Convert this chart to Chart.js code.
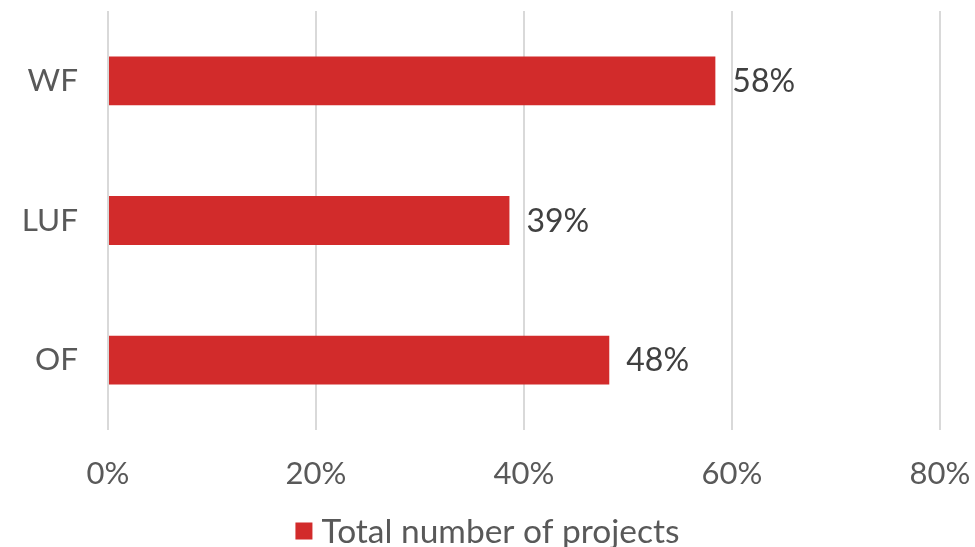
<!DOCTYPE html>
<html>
<head>
<meta charset="utf-8">
<script src="https://cdn.jsdelivr.net/npm/chart.js@4"></script>
<style>
  html, body { margin: 0; padding: 0; background: #fff; }
  #wrap { width: 975px; height: 547px; }
</style>
</head>
<body>
<div id="wrap"><canvas id="chart"></canvas></div>
<script>
// Chart data
const categories = ['WF', 'LUF', 'OF'];
const projectShares = [58.4, 38.6, 48.2];
const tickValues = [0, 20, 40, 60, 80];
const seriesName = 'Total number of projects';

const FONT = 'Lato, "Open Sans", sans-serif';
const BAR_RED = '#D22B2B';

// Draws the percentage next to each bar end
const barLabels = {
    id: 'barLabels',
    afterDatasetsDraw(chart) {
        const ctx = chart.ctx;
        const meta = chart.getDatasetMeta(0);
        ctx.save();
        ctx.font = '32px ' + FONT;
        ctx.fillStyle = '#404040';
        ctx.textAlign = 'left';
        ctx.textBaseline = 'middle';
        meta.data.forEach((bar, i) => {
            ctx.fillText(Math.round(projectShares[i]) + '%', bar.x + 17, bar.y + 1);
        });
        ctx.restore();
    }
};

// Simple legend under the axis, centred on the canvas
const bottomLegend = {
    id: 'bottomLegend',
    afterDraw(chart) {
        const ctx = chart.ctx;
        ctx.save();
        ctx.font = '33.5px ' + FONT;
        const textW = ctx.measureText(seriesName).width;
        const box = 17, gap = 9;
        const total = box + gap + textW;
        const x0 = (chart.width - total) / 2;
        const y = 531;
        ctx.fillStyle = BAR_RED;
        ctx.fillRect(x0, y - box / 2, box, box);
        ctx.fillStyle = '#595959';
        ctx.textBaseline = 'middle';
        ctx.fillText(seriesName, x0 + box + gap, y + 1);
        ctx.restore();
    }
};

new Chart(document.getElementById('chart'), {
    type: 'bar',
    data: {
        labels: categories,
        datasets: [{
            label: seriesName,
            data: projectShares,
            backgroundColor: BAR_RED,
            categoryPercentage: 0.35,
            barPercentage: 1.0
        }]
    },
    options: {
        indexAxis: 'y',
        responsive: true,
        maintainAspectRatio: false,
        animation: false,
        layout: { padding: { top: 11, right: 35, left: 0, bottom: 0 } },
        scales: {
            x: {
                min: 0,
                max: 80,
                afterBuildTicks(scale) {
                    scale.ticks = tickValues.map(v => ({ value: v }));
                },
                afterFit(scale) {
                    scale.height = 117;
                    scale.paddingLeft = 0;
                    scale.paddingRight = 0;
                },
                ticks: {
                    padding: 25,
                    color: '#595959',
                    font: { family: FONT, size: 31 },
                    callback: v => v + '%'
                },
                grid: { color: '#D9D9D9', lineWidth: 2, drawTicks: false },
                border: { display: false }
            },
            y: {
                afterFit(scale) {
                    scale.width = 108;
                    scale.paddingTop = 0;
                    scale.paddingBottom = 0;
                },
                ticks: {
                    padding: 22,
                    color: '#595959',
                    font: { family: FONT, size: 31.5 }
                },
                grid: { display: false },
                border: { display: false }
            }
        },
        plugins: {
            legend: { display: false },
            tooltip: { enabled: false }
        }
    },
    plugins: [barLabels, bottomLegend]
});
</script>
</body>
</html>
